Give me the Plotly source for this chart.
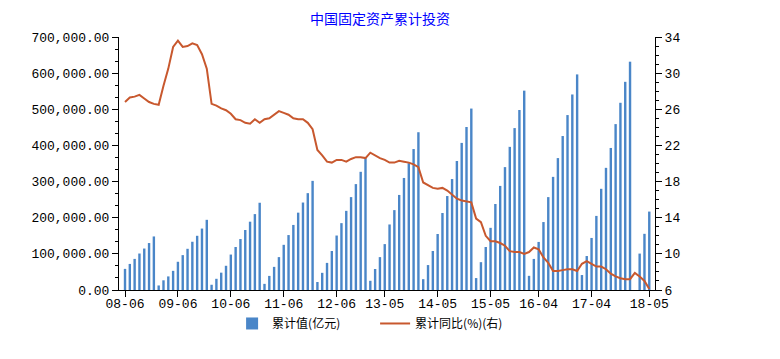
import plotly.graph_objects as go

# ---- data ----
months_by_year = {
    2008: list(range(6, 13)),
    2009: list(range(2, 13)), 2010: list(range(2, 13)), 2011: list(range(2, 13)),
    2012: list(range(2, 13)), 2013: list(range(2, 13)), 2014: list(range(2, 13)),
    2015: list(range(2, 13)), 2016: list(range(2, 13)), 2017: list(range(2, 13)),
    2018: list(range(2, 6)),
}
categories = [f"{y % 100:02d}-{m:02d}" for y, ms in months_by_year.items() for m in ms]

cum_2008 = [58436, 72156, 86061, 100938, 114707, 129935, 148167]
cum_2009 = [12556, 26800, 37600, 53000, 78098, 96500, 114000, 133500, 150000, 170000, 194139]
cum_2010 = [14500, 31000, 48000, 67000, 98048, 119000, 141000, 166000, 189000, 210000, 241415]
cum_2011 = [17000, 39000, 64000, 91000, 125000, 152000, 180000, 214000, 242000, 268000, 301933]
cum_2012 = [22090, 47540, 75000, 108000, 150710, 185000, 219000, 257000, 293000, 327000, 364835]
cum_2013 = [25470, 58092, 91000, 127000, 181318, 221000, 263000, 310000, 351000, 390000, 436528]
cum_2014 = [30000, 69000, 108000, 155000, 213000, 260000, 307000, 357000, 407000, 451000, 502005]
cum_2015 = [33000, 77000, 119000, 172000, 238000, 288000, 340000, 396000, 448000, 498000, 551590]
cum_2016 = [39214, 86000, 133000, 188000, 257000, 313000, 365000, 426000, 484000, 541000, 596501]
cum_2017 = [41378, 94000, 144000, 205000, 280000, 338000, 393000, 459000, 518000, 576000, 631684]
cum_2018 = [None, 100763, 155435, 217000]
cum_value = (cum_2008 + cum_2009 + cum_2010 + cum_2011 + cum_2012 + cum_2013 +
             cum_2014 + cum_2015 + cum_2016 + cum_2017 + cum_2018)

yoy_2008 = [26.8, 27.3, 27.4, 27.6, 27.2, 26.8, 26.6]
yoy_2009 = [26.5, 28.6, 30.5, 32.9, 33.6, 32.9, 33.0, 33.3, 33.1, 32.1, 30.5]
yoy_2010 = [26.6, 26.4, 26.1, 25.9, 25.5, 24.9, 24.8, 24.5, 24.4, 24.9, 24.5]
yoy_2011 = [24.9, 25.0, 25.4, 25.8, 25.6, 25.4, 25.0, 24.9, 24.9, 24.5, 23.8]
yoy_2012 = [21.5, 20.9, 20.2, 20.1, 20.4, 20.4, 20.2, 20.5, 20.7, 20.7, 20.6]
yoy_2013 = [21.2, 20.9, 20.6, 20.4, 20.1, 20.1, 20.3, 20.2, 20.1, 19.9, 19.6]
yoy_2014 = [17.9, 17.6, 17.3, 17.2, 17.3, 17.0, 16.5, 16.1, 15.9, 15.8, 15.7]
yoy_2015 = [13.9, 13.5, 12.0, 11.4, 11.4, 11.2, 10.9, 10.3, 10.2, 10.2, 10.0]
yoy_2016 = [10.2, 10.7, 10.5, 9.6, 9.0, 8.1, 8.1, 8.2, 8.3, 8.3, 8.1]
yoy_2017 = [8.9, 9.2, 8.9, 8.6, 8.6, 8.3, 7.8, 7.5, 7.3, 7.2, 7.2]
yoy_2018 = [7.9, 7.5, 7.0, 6.1]
yoy_growth = (yoy_2008 + yoy_2009 + yoy_2010 + yoy_2011 + yoy_2012 + yoy_2013 +
              yoy_2014 + yoy_2015 + yoy_2016 + yoy_2017 + yoy_2018)

x_tick_labels = ["08-06", "09-06", "10-06", "11-06", "12-06", "13-05",
                 "14-05", "15-05", "16-04", "17-04", "18-05"]
left_ticks = [0, 100000, 200000, 300000, 400000, 500000, 600000, 700000]
right_ticks = [6, 10, 14, 18, 22, 26, 30, 34]

# ---- figure ----
BAR_COLOR = "#4A86C8"
LINE_COLOR = "#C8582E"
MONO = "Liberation Mono"
CJK = "Noto Sans CJK SC"

fig = go.Figure()
fig.add_trace(go.Bar(
    x=categories, y=cum_value, name="累计值(亿元)",
    marker=dict(color=BAR_COLOR, line=dict(width=0)),
    yaxis="y",
))
fig.add_trace(go.Scatter(
    x=categories, y=yoy_growth, name="累计同比(%)(右)",
    mode="lines", line=dict(color=LINE_COLOR, width=2),
    yaxis="y2",
))

n = len(categories)
# page body has an 8px margin; offsets below compensate for it
fig.update_layout(
    width=780, height=359,
    margin=dict(l=111, r=133, t=29, b=77, autoexpand=False),
    paper_bgcolor="white", plot_bgcolor="white",
    bargap=0.5,
    showlegend=True,
    title=dict(text="中国固定资产累计投资", x=0.477, xanchor="center",
               y=0.97, yanchor="middle", yref="container",
               font=dict(family=CJK, size=14, color="#0000FF")),
    xaxis=dict(
        type="category", categoryorder="array", categoryarray=categories,
        range=[-1.25, n - 1 + 1.19],
        tickmode="array", tickvals=x_tick_labels, ticktext=x_tick_labels,
        ticks="outside", ticklen=6, tickcolor="black", tickwidth=1,
        ticklabelstandoff=-5,
        showline=True, linecolor="black", linewidth=1,
        showgrid=False, zeroline=False,
        tickfont=dict(family=MONO, size=13, color="black"),
    ),
    yaxis=dict(
        range=[0, 700000],
        tickmode="array", tickvals=left_ticks,
        ticktext=[f"{v:,.2f}" for v in left_ticks],
        ticks="outside", ticklen=6, tickcolor="black",
        minor=dict(ticks="outside", ticklen=3, tickcolor="black",
                   tick0=0, dtick=100000 / 3),
        showline=True, linecolor="black", linewidth=1,
        showgrid=False, zeroline=False,
        tickfont=dict(family=MONO, size=13, color="black"),
    ),
    yaxis2=dict(
        overlaying="y", side="right", range=[6, 34],
        tickmode="array", tickvals=right_ticks,
        ticktext=[str(v) for v in right_ticks],
        ticks="outside", ticklen=6, tickcolor="black",
        minor=dict(ticks="outside", ticklen=3, tickcolor="black",
                   tick0=6, dtick=1),
        showline=True, linecolor="black", linewidth=1,
        showgrid=False, zeroline=False,
        tickfont=dict(family=MONO, size=13, color="black"),
    ),
    legend=dict(
        orientation="h", x=0.211, xanchor="left", y=-0.075, yanchor="top",
        entrywidth=98, entrywidthmode="pixels", itemwidth=30,
        font=dict(family=CJK, size=12, color="black"),
        bgcolor="rgba(0,0,0,0)", borderwidth=0,
        traceorder="normal",
    ),
)

fig.write_html("out.html")
